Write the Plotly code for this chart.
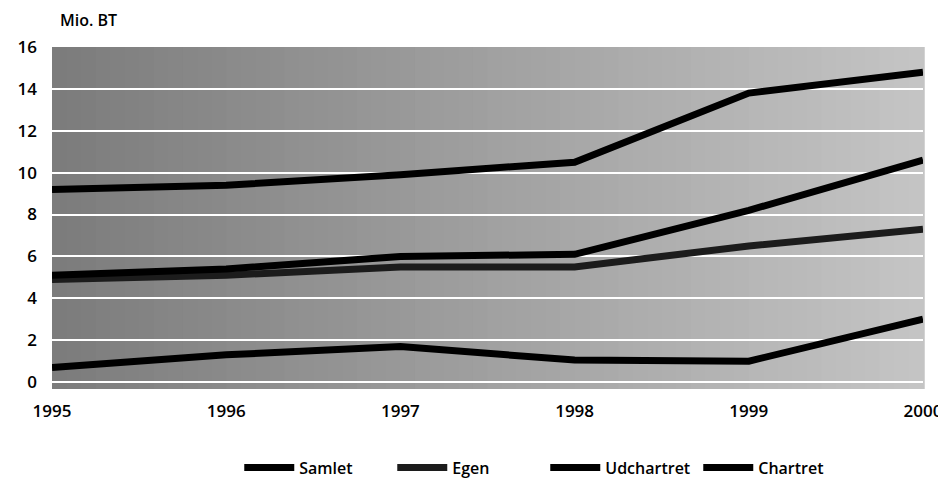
import plotly.graph_objects as go

years = ["1995", "1996", "1997", "1998", "1999", "2000"]
samlet = [9.2, 9.4, 9.9, 10.5, 13.8, 14.8]
egen = [4.9, 5.1, 5.5, 5.5, 6.5, 7.3]
udchartret = [5.1, 5.4, 6.0, 6.1, 8.2, 10.6]
chartret = [0.7, 1.3, 1.7, 1.05, 1.0, 3.0]
y_ticks = [0, 2, 4, 6, 8, 10, 12, 14, 16]
series_names = ["Samlet", "Egen", "Udchartret", "Chartret"]

FONT = "Open Sans, sans-serif"

fig = go.Figure()
series = [samlet, egen, udchartret, chartret]
colors = ["#000000", "#1c1c1c", "#000000", "#000000"]
for name, vals, col in zip(series_names, series, colors):
    fig.add_trace(go.Scatter(
        x=years, y=vals, name=name, mode="lines",
        line=dict(color=col, width=7),
    ))

# horizontal gray gradient background (halftone look)
n = 60
c0, c1 = 0x7c, 0xc4
for i in range(n):
    t = i / (n - 1)
    v = int(round(c0 + (c1 - c0) * t))
    fig.add_shape(type="rect", xref="x domain", yref="y domain",
                  x0=i / n, x1=(i + 1) / n + 0.002, y0=0, y1=1,
                  fillcolor=f"rgb({v},{v},{v})", line=dict(width=0),
                  layer="below")

fig.add_annotation(text="Mio. BT", xref="paper", yref="paper",
                   x=0.0, y=1.0, xanchor="left", yanchor="bottom",
                   xshift=6, yshift=14, showarrow=False,
                   font=dict(family=FONT, size=16, color="#000", weight=600))

# page body has an 8px default margin, so the figure is sized 8px smaller
fig.update_layout(
    width=938, height=478,
    margin=dict(l=44, r=23, t=39, b=97, autoexpand=False),
    paper_bgcolor="white", plot_bgcolor="rgba(0,0,0,0)",
    font=dict(family=FONT, size=17, color="#000", weight=600),
    showlegend=True,
    legend=dict(orientation="h", x=0.215, xanchor="left", y=-0.23,
                yanchor="middle", font=dict(family=FONT, size=16, weight=600),
                entrywidth=88, itemwidth=50, bgcolor="rgba(0,0,0,0)"),
    xaxis=dict(type="category", range=[0, 5], showgrid=False, zeroline=False,
               showline=False, ticks="", ticklabelstandoff=10, automargin=False,
               tickfont=dict(family=FONT, size=17, weight=600)),
    yaxis=dict(range=[-0.33, 16], tickvals=y_ticks, showgrid=True,
               gridcolor="white", gridwidth=2, zeroline=False, showline=False,
               ticks="", ticklabelstandoff=14, automargin=False,
               tickfont=dict(family=FONT, size=17, weight=600)),
)

fig.write_html("out.html")
